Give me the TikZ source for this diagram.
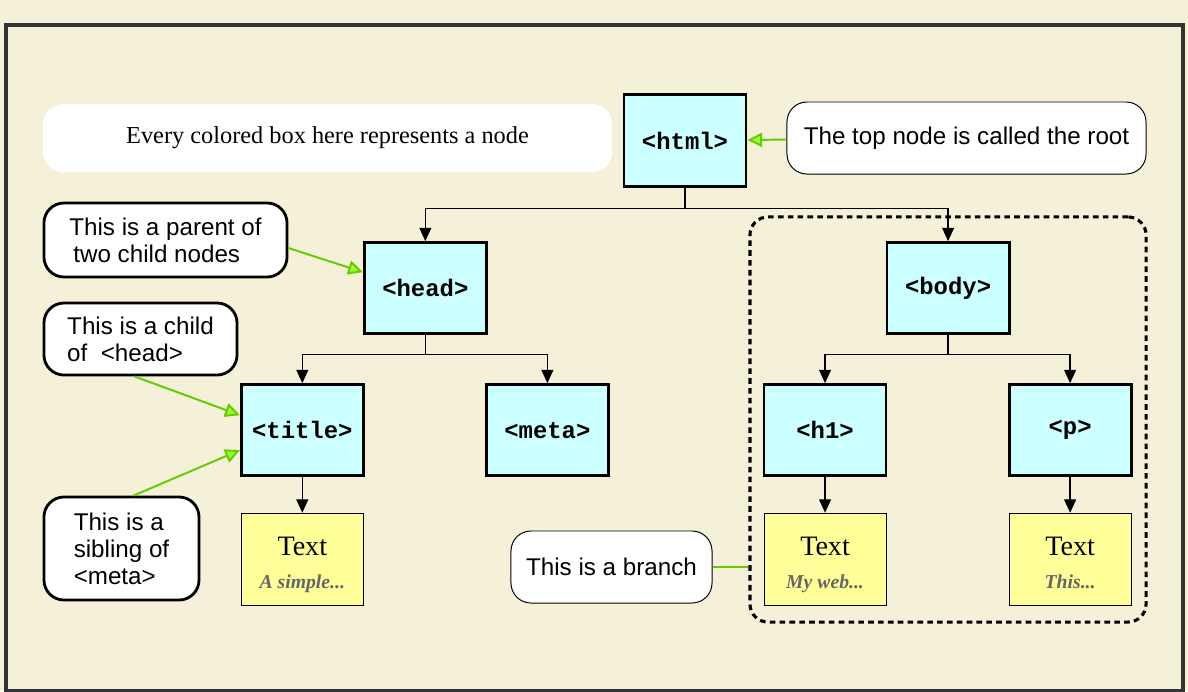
\documentclass[tikz,border=0pt]{standalone}
\usepackage{fontspec}
\setmainfont{Liberation Serif}
\setsansfont{Liberation Sans}
\setmonofont{Liberation Mono}
\usetikzlibrary{shapes,arrows,arrows.meta,positioning,calc}
\definecolor{paper}{RGB}{245,241,216}
\definecolor{framegray}{RGB}{51,51,51}
\definecolor{tagblue}{RGB}{204,255,255}
\definecolor{leafyellow}{RGB}{255,255,153}
\definecolor{notegreen}{RGB}{102,204,0}
\definecolor{headgreen}{RGB}{153,255,51}
\definecolor{snippetgray}{RGB}{102,102,102}
\tikzset{
    tag/.style = {
        draw,
        line width=2pt,
        fill=tagblue,
        rectangle,
        minimum width=3.05cm,
        minimum height=2.28cm,
        font=\fontsize{17pt}{20pt}\selectfont\ttfamily\bfseries
    },
    leaf/.style = {
        draw,
        line width=0.7pt,
        fill=leafyellow,
        rectangle,
        align=center,
        minimum width=3.05cm,
        minimum height=2.3cm,
        font=\fontsize{20pt}{22pt}\selectfont
    },
    note/.style = {
        draw,
        line width=2pt,
        fill=white,
        rectangle,
        rounded corners=0.5cm,
        align=left,
        font=\fontsize{17.2pt}{19.2pt}\selectfont\sffamily
    },
    thinnote/.style = {
        note,
        line width=0.7pt
    },
    branchbox/.style = {
        draw,
        line width=2.2pt,
        dash pattern=on 4pt off 3pt,
        rectangle,
        rounded corners=0.45cm,
        minimum width=9.9cm,
        minimum height=10.125cm
    },
    treeline/.style = {
        line width=0.9pt,
        -{Triangle[length=9.5pt,width=8.5pt]}
    },
    notearrow/.style = {
        draw=notegreen,
        line width=1.4pt,
        -{Triangle[length=10.5pt,width=10pt,fill=headgreen]}
    }
}
\newcommand{\snippet}[1]{{\fontsize{14pt}{16pt}\selectfont\bfseries\itshape\color{snippetgray}#1\vphantom{py}}}

\begin{document}
\begin{tikzpicture}[x=0.025cm, y=-0.025cm]
            % frame
            \useasboundingbox (0,0) rectangle (1188,691);
            \fill [paper] (0,0) rectangle (1188,691);
            \draw [framegray, line width=2.8pt] (6,25) rectangle (1183,691);

            % tree nodes
            \node [tag] (html) at (685,140.5) {<html>};
            \node [tag,below of=html,node distance=3.69cm,xshift=-6.49cm] (head) {<head>};
            \node [tag,below of=html,node distance=3.69cm,xshift=6.575cm] (body) {<body>};
            \node [tag,below of=head,node distance=3.55cm,xshift=-3.075cm] (title) {<title>};
            \node [tag,below of=head,node distance=3.55cm,xshift=3.05cm] (meta) {<meta>};
            \node [tag,below of=body,node distance=3.55cm,xshift=-3.075cm] (h1) {<h1>};
            \node [tag,below of=body,node distance=3.55cm,xshift=3.05cm] (p) {<p>};

            \node [leaf,below of=title,node distance=3.225cm] (titletext) {\rule{0pt}{21pt}Text\\[1pt]\snippet{A simple...}};
            \node [leaf,below of=h1,node distance=3.225cm] (h1text) {\rule{0pt}{21pt}Text\\[1pt]\snippet{My web...}};
            \node [leaf,below of=p,node distance=3.225cm] (ptext) {\rule{0pt}{21pt}Text\\[1pt]\snippet{This...}};

            % the branch
            \node [branchbox] (branch) at (948,419.5) {};

            % notes
            \node [note,draw=none,minimum width=14.225cm,minimum height=1.7cm,align=center,
                   font=\fontsize{17.3pt}{19pt}\selectfont] (colornote) at (327.5,138) {Every colored box here represents a node};
            \node [thinnote,minimum width=8.975cm,minimum height=1.8cm] (rootnote) at (966.5,138) {The top node is called the root};
            \node [note,minimum width=6.075cm,minimum height=1.85cm] (parentnote) at (165.5,240) {This is a parent of\\\,two child nodes};
            \node [note,minimum width=4.825cm,minimum height=1.8cm] (childnote) at (140.5,339) {This is a child\\of\ \ <head>};
            \node [note,minimum width=3.875cm,minimum height=2.575cm] (siblingnote) at (121.5,548.5) {This is a\\sibling of\\<meta>};
            \node [thinnote,minimum width=5.025cm,minimum height=1.8cm] (branchnote) at (611.5,567) {This is a branch};

            % tree arrows
            \draw [treeline] (html.south) -- ++(0,21) -| (head.north);
            \draw [treeline] (html.south) -- ++(0,21) -| (body.north);
            \draw [treeline] (head.south) -- ++(0,19) -| (title.north);
            \draw [treeline] (head.south) -- ++(0,19) -| (meta.north);
            \draw [treeline] (body.south) -- ++(0,19) -| (h1.north);
            \draw [treeline] (body.south) -- ++(0,19) -| (p.north);
            \draw [treeline] (title) -- (titletext);
            \draw [treeline] (h1) -- (h1text);
            \draw [treeline] (p) -- (ptext);

            % note arrows
            \draw [notearrow] (rootnote) -- (html);
            \draw [notearrow] ([yshift=-0.2cm]parentnote.east) -- ([yshift=0.4cm]head.west);
            \draw [notearrow] ([xshift=-0.15cm]childnote.south) -- ([yshift=0.375cm]title.west);
            \draw [notearrow] ([xshift=0.3cm]siblingnote.north) -- ([yshift=-0.5cm]title.west);
            \draw [notegreen, line width=1pt] (branchnote.east) -- (branchnote.east -| branch.west);
\end{tikzpicture}
\end{document}
